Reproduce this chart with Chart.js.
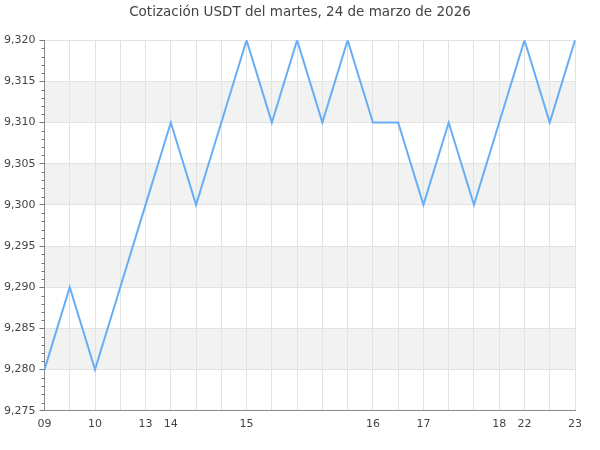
<!DOCTYPE html>
<html><head><meta charset="utf-8">
<script src="https://cdn.jsdelivr.net/npm/chart.js@4/dist/chart.umd.min.js"></script>
<style>html,body{margin:0;padding:0;background:#fff}#wrap{width:600px;height:450px}</style>
</head><body><div id="wrap"><canvas id="c"></canvas></div>
<script>
const categories = ['09','','10','','13','14','','','15','','','','','16','','17','','','18','22','','23'];
const values = [9.280,9.290,9.280,9.290,9.300,9.310,9.300,9.310,9.320,9.310,9.320,9.310,9.320,9.310,9.310,9.300,9.310,9.300,9.310,9.320,9.310,9.320];
const yMin = 9.275, yMax = 9.320, yStep = 0.005, yMinorStep = 0.001;
const bandStarts = [9.280, 9.290, 9.300, 9.310];
const titleText = 'Cotización USDT del martes, 24 de marzo de 2026';

const fmt = v => v.toFixed(3).replace('.', ',');

const bandsPlugin = {
  id: 'bands',
  afterLayout(chart) {
    const t = chart.titleBlock;
    if (t) { t.left = 0; t.right = chart.width; t.width = chart.width; }
  },
  beforeDraw(chart) {
    const {ctx, chartArea, scales: {y}} = chart;
    ctx.save();
    ctx.fillStyle = '#f2f2f2';
    bandStarts.forEach(b => {
      const top = y.getPixelForValue(b + yStep), bot = y.getPixelForValue(b);
      ctx.fillRect(chartArea.left, top, chartArea.right - chartArea.left, bot - top);
    });
    ctx.restore();
  },
  afterDraw(chart) {
    const {ctx, scales: {y}, chartArea} = chart;
    ctx.save();
    ctx.strokeStyle = '#777';
    ctx.lineWidth = 1;
    const n = Math.round((yMax - yMin) / yMinorStep);
    for (let i = 0; i <= n; i++) {
      if (i % 5 === 0) continue;
      const py = Math.round(y.getPixelForValue(yMin + i * yMinorStep)) + 0.5;
      ctx.beginPath();
      ctx.moveTo(chartArea.left - 3, py);
      ctx.lineTo(chartArea.left, py);
      ctx.stroke();
    }
    ctx.restore();
  }
};

new Chart(document.getElementById('c'), {
  type: 'line',
  data: {
    labels: categories,
    datasets: [{
      data: values,
      borderColor: '#66aef5',
      borderWidth: 2,
      pointRadius: 0,
      tension: 0,
      fill: false
    }]
  },
  options: {
    responsive: true,
    maintainAspectRatio: false,
    animation: false,
    layout: {padding: {left: 0, right: 25, top: 1, bottom: 12}},
    plugins: {
      legend: {display: false},
      tooltip: {enabled: false},
      title: {
        display: true,
        text: titleText,
        color: '#444',
        font: {family: 'DejaVu Sans', size: 13.5, weight: 'normal'},
        padding: {top: 3, bottom: 20}
      }
    },
    scales: {
      x: {
        grid: {color: '#e2e2e2', drawTicks: false},
        border: {color: '#888', width: 1},
        ticks: {
          autoSkip: false, maxRotation: 0, padding: 7,
          color: '#444', font: {family: 'DejaVu Sans', size: 11}
        }
      },
      y: {
        min: yMin, max: yMax,
        grid: {color: '#e2e2e2', tickColor: '#777', tickLength: 5},
        border: {color: '#888', width: 1},
        ticks: {
          stepSize: yStep, padding: 4,
          color: '#444', font: {family: 'DejaVu Sans', size: 11},
          callback: v => fmt(v)
        }
      }
    }
  },
  plugins: [bandsPlugin]
});
</script></body></html>
